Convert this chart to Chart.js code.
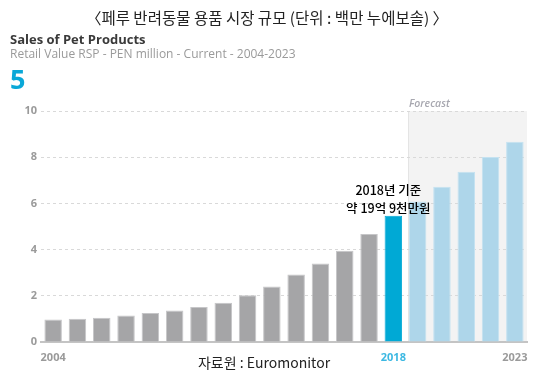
<!DOCTYPE html>
<html>
<head>
<meta charset="utf-8">
<script src="https://cdn.jsdelivr.net/npm/chart.js@4"></script>
<style>
  html, body { margin: 0; padding: 0; background: #fff; }
  #wrap { position: relative; width: 540px; height: 378px; }
</style>
</head>
<body>
<div id="wrap"><canvas id="chartCanvas" width="540" height="378"></canvas></div>
<script>
// 데이터
const years = ['2004','2005','2006','2007','2008','2009','2010','2011','2012','2013',
               '2014','2015','2016','2017','2018','2019','2020','2021','2022','2023'];
const sales = [0.97, 1.01, 1.05, 1.15, 1.26, 1.36, 1.52, 1.70, 2.02, 2.40,
               2.92, 3.40, 3.95, 4.68, 5.46, 6.08, 6.72, 7.37, 8.01, 8.67];
const shownYears = ['2004', '2018', '2023'];
const yTicks = [0, 2, 4, 6, 8, 10];
const baseYear = '2018';
const firstForecast = '2019';

const titleText = '〈페루 반려동물 용품 시장 규모 (단위 : 백만 누에보솔) 〉';
const subTitle = 'Sales of Pet Products';
const subTitle2 = 'Retail Value RSP - PEN million - Current - 2004-2023';
const noteLines = ['2018년 기준', '약 19억 9천만원'];
const sourceText = '자료원 : Euromonitor';

const KR = '"Noto Sans CJK KR", "Noto Sans", sans-serif';
const EN = '"Open Sans", "Noto Sans", sans-serif';

function barColor(i) {
  const y = years[i];
  if (y === baseYear) return '#00a9d5';
  if (y >= firstForecast) return '#aed6ea';
  return '#a5a5a7';
}
function barBorder(i) {
  const y = years[i];
  if (y === baseYear) return '#00a9d5';
  if (y >= firstForecast) return '#c4e2f1';
  return '#c6c6c8';
}

// 예측 구간 배경 + 텍스트들
const decorPlugin = {
  id: 'decor',
  beforeDraw(chart) {
    const { ctx, chartArea, scales } = chart;
    const x = scales.x, y = scales.y;
    const idx = years.indexOf(firstForecast);
    const step = x.getPixelForValue(1) - x.getPixelForValue(0);
    const left = Math.round(x.getPixelForValue(idx) - step * 0.38);
    const top = y.getPixelForValue(10);
    ctx.save();
    ctx.fillStyle = '#f3f3f3';
    ctx.fillRect(left, top, chartArea.right - left, chartArea.bottom - top);
    ctx.strokeStyle = '#e4e4e4';
    ctx.lineWidth = 1;
    ctx.beginPath();
    ctx.moveTo(left + 0.5, top);
    ctx.lineTo(left + 0.5, chartArea.bottom);
    ctx.stroke();
    ctx.fillStyle = '#a8a8b0';
    ctx.font = 'italic 600 10.5px ' + EN;
    ctx.textAlign = 'left';
    ctx.textBaseline = 'alphabetic';
    ctx.fillText('Forecast', left + 1, top - 4);
    ctx.restore();
  },
  afterDraw(chart) {
    const { ctx, scales } = chart;
    ctx.save();
    ctx.textBaseline = 'middle';
    ctx.textAlign = 'center';
    ctx.fillStyle = '#222';
    ctx.font = '15.5px ' + KR;
    ctx.fillText(titleText, 267, 18);

    ctx.textAlign = 'left';
    ctx.fillStyle = '#3a3a3a';
    ctx.font = 'bold 13px ' + EN;
    ctx.fillText(subTitle, 10, 40);
    ctx.fillStyle = '#9a9a9a';
    ctx.font = '12px ' + EN;
    ctx.fillText(subTitle2, 10, 55);
    ctx.fillStyle = '#0aa8d8';
    ctx.font = 'bold 27px ' + EN;
    ctx.fillText('5', 10, 81);

    // 2018 주석
    const cx = scales.x.getPixelForValue(years.indexOf(baseYear)) - 5;
    ctx.textAlign = 'center';
    ctx.fillStyle = '#000';
    ctx.font = '500 12.5px ' + KR;
    ctx.fillText(noteLines[0], cx, 190);
    ctx.fillText(noteLines[1], cx, 208);

    ctx.fillStyle = '#222';
    ctx.font = '14px ' + KR;
    ctx.fillText(sourceText, 264, 363);
    ctx.restore();
  }
};

const ctx = document.getElementById('chartCanvas').getContext('2d');
new Chart(ctx, {
  type: 'bar',
  data: {
    labels: years,
    datasets: [{
      data: sales,
      backgroundColor: sales.map((v, i) => barColor(i)),
      borderColor: sales.map((v, i) => barBorder(i)),
      borderWidth: 1,
      borderSkipped: 'bottom',
      categoryPercentage: 1,
      barPercentage: 0.72
    }]
  },
  options: {
    responsive: false,
    animation: false,
    layout: { padding: { top: 111, right: 13, bottom: 0, left: 0 } },
    plugins: { legend: { display: false }, tooltip: { enabled: false } },
    scales: {
      x: {
        afterFit(scale) { scale.height = 36; },
        grid: { display: false },
        border: { display: true, color: '#c4c4c4', width: 2 },
        ticks: {
          autoSkip: false,
          maxRotation: 0,
          padding: 1,
          font: { family: EN, size: 11, weight: 'bold' },
          color: (c) => years[c.index] === baseYear ? '#3cb8e2' : '#9a9a9a',
          callback: (v, i) => shownYears.includes(years[i]) ? years[i] : ''
        }
      },
      y: {
        min: 0,
        max: 10,
        afterFit(scale) { scale.width = 41; },
        afterBuildTicks(scale) { scale.ticks = yTicks.map(v => ({ value: v })); },
        border: { display: false, dash: [3, 3] },
        grid: {
          drawTicks: false,
          color: (c) => c.tick && c.tick.value === 0 ? 'rgba(0,0,0,0)' : '#d9d9d9'
        },
        ticks: {
          padding: 4,
          font: { family: EN, size: 11, weight: 'bold' },
          color: '#9a9a9a'
        }
      }
    }
  },
  plugins: [decorPlugin]
});
</script>
</body>
</html>
